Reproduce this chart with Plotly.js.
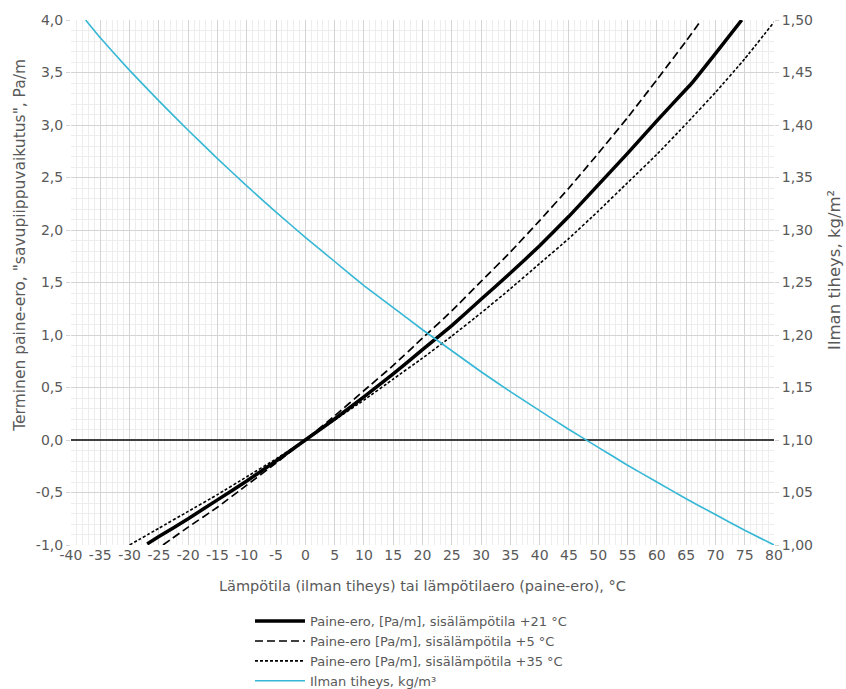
<!DOCTYPE html>
<html>
<head>
<meta charset="utf-8">
<script src="https://cdn.plot.ly/plotly-3.0.1.min.js"></script>
<style>html,body{margin:0;padding:0;background:#fff;}#chart{width:846px;height:689px;}</style>
</head>
<body>
<div id="chart"></div>
<script>
// Temperature difference (°C) and thermal pressure difference (Pa/m)
var dT21 = [-27, -25, -20, -15, -10, -5, 0, 5, 10, 15, 20, 25, 30, 35, 40, 45, 50, 55, 60, 65, 66, 70, 74.5];
var dp21 = [-0.99, -0.92, -0.75, -0.57, -0.39, -0.20, 0, 0.20, 0.41, 0.63, 0.86, 1.09, 1.34, 1.59, 1.85, 2.13, 2.43, 2.73, 3.04, 3.34, 3.40, 3.68, 4.00];

var dT5 = [-24.3, -20, -15, -10, -5, 0, 5, 10, 15, 20, 25, 30, 35, 40, 45, 50, 55, 60, 65, 67.6];
var dp5 = [-1.00, -0.83, -0.64, -0.43, -0.22, 0, 0.23, 0.47, 0.71, 0.97, 1.23, 1.51, 1.79, 2.09, 2.40, 2.73, 3.07, 3.43, 3.80, 4.00];

var dT35 = [-30, -25, -20, -15, -10, -5, 0, 5, 10, 15, 20, 25, 30, 35, 40, 45, 50, 55, 60, 65, 70, 75, 80];
var dp35 = [-1.00, -0.84, -0.68, -0.52, -0.35, -0.18, 0, 0.19, 0.38, 0.58, 0.78, 0.99, 1.21, 1.44, 1.68, 1.92, 2.18, 2.45, 2.72, 3.01, 3.31, 3.63, 3.98];

// Air density (kg/m3) vs temperature (°C)
var tAir = [-37.5, -35, -30, -25, -20, -15, -10, -5, 0, 5, 10, 15, 20, 25, 30, 35, 40, 45, 50, 55, 60, 65, 70, 75, 80];
var rhoAir = [1.500, 1.483, 1.452, 1.423, 1.395, 1.368, 1.342, 1.317, 1.293, 1.270, 1.247, 1.226, 1.205, 1.185, 1.165, 1.146, 1.128, 1.110, 1.093, 1.076, 1.060, 1.044, 1.029, 1.014, 1.000];

// Tick labels
var xTickVals = [-40, -35, -30, -25, -20, -15, -10, -5, 0, 5, 10, 15, 20, 25, 30, 35, 40, 45, 50, 55, 60, 65, 70, 75, 80];
var xTickText = ["-40", "-35", "-30", "-25", "-20", "-15", "-10", "-5", "0", "5", "10", "15", "20", "25", "30", "35", "40", "45", "50", "55", "60", "65", "70", "75", "80"];
var yTickVals = [-1, -0.5, 0, 0.5, 1, 1.5, 2, 2.5, 3, 3.5, 4];
var yTickText = ["-1,0", "-0,5", "0,0", "0,5", "1,0", "1,5", "2,0", "2,5", "3,0", "3,5", "4,0"];
var y2TickVals = [1.00, 1.05, 1.10, 1.15, 1.20, 1.25, 1.30, 1.35, 1.40, 1.45, 1.50];
var y2TickText = ["1,00", "1,05", "1,10", "1,15", "1,20", "1,25", "1,30", "1,35", "1,40", "1,45", "1,50"];

var names = [
  "Paine-ero, [Pa/m], sisälämpötila +21 °C",
  "Paine-ero [Pa/m], sisälämpötila +5 °C",
  "Paine-ero [Pa/m], sisälämpötila +35 °C",
  "Ilman tiheys, kg/m³"
];

var traces = [
  {x: dT21, y: dp21, name: names[0], mode: "lines", line: {color: "#000000", width: 3.5, shape: "spline", smoothing: 0.3}},
  {x: dT5, y: dp5, name: names[1], mode: "lines", line: {color: "#000000", width: 1.7, dash: "8px,4px", shape: "spline", smoothing: 0.3}},
  {x: dT35, y: dp35, name: names[2], mode: "lines", line: {color: "#000000", width: 1.6, dash: "3px,2px", shape: "spline", smoothing: 0.3}},
  {x: tAir, y: rhoAir, name: names[3], mode: "lines", yaxis: "y2", line: {color: "#35b7d5", width: 1.6, shape: "spline", smoothing: 0.3}}
];

var FONT = "DejaVu Sans, Verdana, sans-serif";
var tickFont = {family: FONT, size: 14, color: "#595959"};

var layout = {
  width: 846, height: 689,
  margin: {l: 71, r: 72, t: 20, b: 144, autoexpand: false},
  paper_bgcolor: "#ffffff",
  plot_bgcolor: "#ffffff",
  showlegend: true,
  font: {family: FONT, color: "#595959"},
  xaxis: {
    range: [-40, 80], tickmode: "array", tickvals: xTickVals, ticktext: xTickText,
    tickfont: tickFont, showgrid: true, gridcolor: "#d4d4d4", gridwidth: 1,
    zeroline: false, showline: false, ticks: "", ticklen: 0,
    minor: {dtick: 1, showgrid: true, gridcolor: "#ededed", gridwidth: 1},
    fixedrange: true,
    title: {text: "Lämpötila (ilman tiheys) tai lämpötilaero (paine-ero), °C", font: {family: FONT, size: 14.5, color: "#595959"}, standoff: 18}
  },
  yaxis: {
    range: [-1, 4], tickmode: "array", tickvals: yTickVals, ticktext: yTickText,
    tickfont: tickFont, showgrid: true, gridcolor: "#d4d4d4", gridwidth: 1,
    zeroline: true, zerolinecolor: "#404040", zerolinewidth: 2,
    showline: false, ticks: "outside", ticklen: 4, tickcolor: "#d4d4d4",
    minor: {dtick: 0.1, showgrid: true, gridcolor: "#ededed", gridwidth: 1},
    fixedrange: true
  },
  yaxis2: {
    range: [1.0, 1.5], overlaying: "y", side: "right",
    tickmode: "array", tickvals: y2TickVals, ticktext: y2TickText,
    tickfont: tickFont, showgrid: false, zeroline: false, showline: false,
    ticks: "outside", ticklen: 4, tickcolor: "#d4d4d4",
    fixedrange: true
  },
  legend: {
    orientation: "v", x: 0.2546, xanchor: "left", y: -0.1165, yanchor: "top",
    font: {family: FONT, size: 13, color: "#595959"}, bgcolor: "rgba(0,0,0,0)",
    tracegroupgap: 0, itemwidth: 50
  },
  annotations: [
    {xref: "paper", yref: "paper", x: -0.0725, y: 0.57, xanchor: "center", yanchor: "middle",
     text: "Terminen paine-ero, \"savupiippuvaikutus\", Pa/m", textangle: -90, showarrow: false,
     font: {family: FONT, size: 15.5, color: "#595959"}},
    {xref: "paper", yref: "paper", x: 1.0868, y: 0.524, xanchor: "center", yanchor: "middle",
     text: "Ilman tiheys, kg/m²", textangle: -90, showarrow: false,
     font: {family: FONT, size: 16.5, color: "#595959"}}
  ]
};

Plotly.newPlot("chart", traces, layout, {displayModeBar: false, staticPlot: true});
</script>
</body>
</html>
